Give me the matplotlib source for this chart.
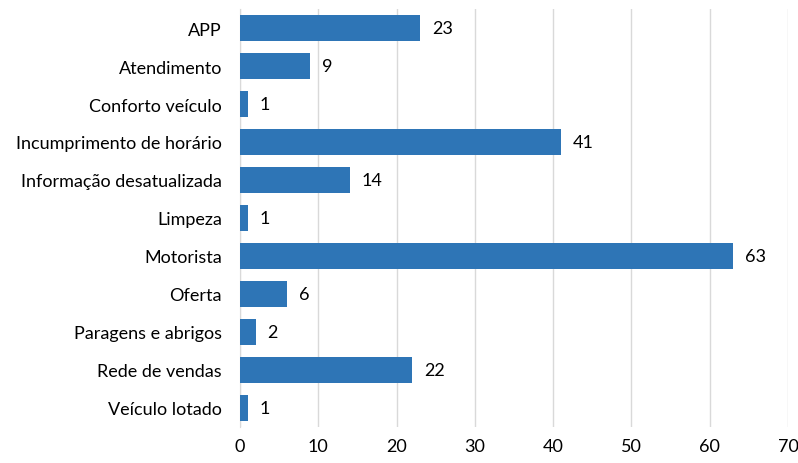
import matplotlib
matplotlib.use("Agg")
import matplotlib.pyplot as plt

categories = [
    "APP",
    "Atendimento",
    "Conforto veículo",
    "Incumprimento de horário",
    "Informação desatualizada",
    "Limpeza",
    "Motorista",
    "Oferta",
    "Paragens e abrigos",
    "Rede de vendas",
    "Veículo lotado",
]
values = [23, 9, 1, 41, 14, 1, 63, 6, 2, 22, 1]
x_ticks = [0, 10, 20, 30, 40, 50, 60, 70]

plt.rcParams["font.family"] = ["Lato", "DejaVu Sans"]

fig = plt.figure(figsize=(7.98, 4.64), dpi=100)
ax = fig.add_axes([240 / 798, 1 - 428 / 464, 548 / 798, 418 / 464])

y = list(range(len(categories)))
ax.barh(y, values, height=0.68, color="#2E75B6", zorder=3)
for yi, v in zip(y, values):
    ax.text(v + 1.5, yi, str(v), va="center", ha="left", fontsize=13, color="#000000")

ax.set_yticks(y)
ax.set_yticklabels(categories, fontsize=13)
ax.set_ylim(len(categories) - 0.5, -0.5)
ax.set_xlim(0, 70)
ax.set_xticks(x_ticks)
ax.set_xticklabels([str(t) for t in x_ticks], fontsize=13)
ax.tick_params(axis="both", length=0, pad=8)
ax.tick_params(axis="y", pad=13)
ax.grid(axis="x", color="#D9D9D9", linewidth=1, zorder=0)
for s in ["top", "right", "bottom"]:
    ax.spines[s].set_visible(False)
ax.spines["left"].set_color("#D9D9D9")
ax.spines["left"].set_zorder(1)

fig.savefig("out.png", dpi=100)
